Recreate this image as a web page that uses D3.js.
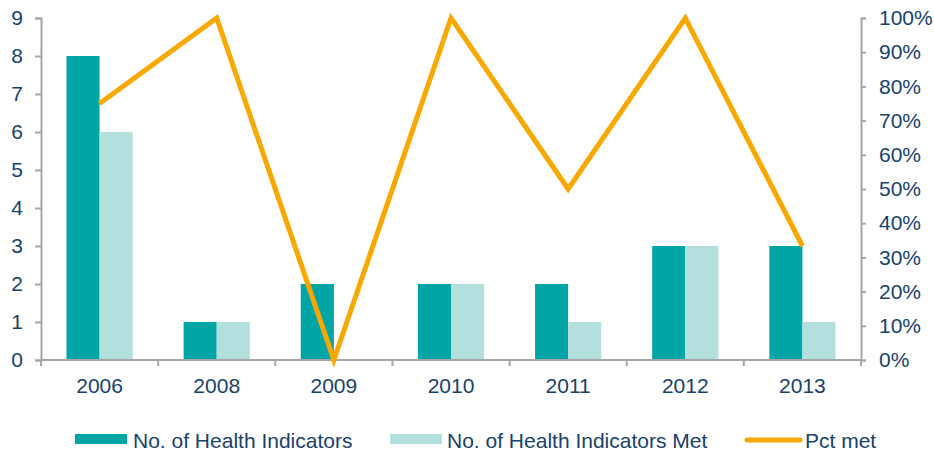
<!DOCTYPE html>
<html><head><meta charset="utf-8">
<script src="https://cdn.jsdelivr.net/npm/d3@7"></script>
<style>
body{margin:0;background:#fff;}
text{font-family:"Liberation Sans",Arial,sans-serif;fill:#17426b;}
</style></head>
<body>
<svg id="c" width="934" height="452"></svg>
<script>
const years = ["2006","2008","2009","2010","2011","2012","2013"];
const indicators = [8,1,2,2,2,3,3];
const indicatorsMet = [6,1,0,2,1,3,1];
const pctMet = [0.75,1,0,1,0.5,1,0.3333];
const leftTicks = [0,1,2,3,4,5,6,7,8,9];
const rightTicks = [0,0.1,0.2,0.3,0.4,0.5,0.6,0.7,0.8,0.9,1];
const seriesNames = ["No. of Health Indicators","No. of Health Indicators Met","Pct met"];
const colors = {ind:"#00a5a6", met:"#b3dfdd", pct:"#f9a800", axis:"#a6a6a6"};

const svg = d3.select("#c");
const L=41, R=861, T=18, B=360;
const FS = "21px";
const x = d3.scaleBand().domain(years).range([L,R]).paddingInner(0).paddingOuter(0);
const yL = d3.scaleLinear().domain([0,9]).range([B,T]);
const yR = d3.scaleLinear().domain([0,1]).range([B,T]);
const sub = d3.scaleBand().domain(["ind","met"]).range([0,x.bandwidth()]).paddingInner(0).paddingOuter(0.77);

// bars
const g = svg.append("g");
years.forEach((yr,i)=>{
  g.append("rect").attr("x",x(yr)+sub("ind")).attr("width",sub.bandwidth())
    .attr("y",yL(indicators[i])).attr("height",B-yL(indicators[i])).attr("fill",colors.ind);
  g.append("rect").attr("x",x(yr)+sub("met")).attr("width",sub.bandwidth())
    .attr("y",yL(indicatorsMet[i])).attr("height",B-yL(indicatorsMet[i])).attr("fill",colors.met);
});

// axes
function styleAxis(sel){
  sel.selectAll("path").attr("stroke",colors.axis).attr("stroke-width",2);
  sel.selectAll("line").attr("stroke",colors.axis).attr("stroke-width",2);
  sel.selectAll("text").style("font-size",FS).attr("fill","#17426b");
}
const axL = svg.append("g").attr("transform",`translate(${L},0)`)
  .call(d3.axisLeft(yL).tickValues(leftTicks).tickSize(6).tickSizeOuter(6).tickPadding(12).tickFormat(d3.format("d")));
styleAxis(axL);
const axR = svg.append("g").attr("transform",`translate(${R},0)`)
  .call(d3.axisRight(yR).tickValues(rightTicks).tickSize(5).tickSizeOuter(5).tickPadding(13).tickFormat(d3.format(".0%")));
styleAxis(axR);

const axB = svg.append("g").attr("transform",`translate(0,${B})`);
axB.append("line").attr("x1",L).attr("x2",R).attr("y1",0).attr("y2",0).attr("stroke",colors.axis).attr("stroke-width",2);
const bounds = years.map(y=>x(y)).concat([R]);
axB.selectAll("line.t").data(bounds).join("line").attr("class","t")
  .attr("x1",d=>d).attr("x2",d=>d).attr("y1",0).attr("y2",6).attr("stroke",colors.axis).attr("stroke-width",2);
axB.selectAll("text").data(years).join("text")
  .attr("x",d=>x(d)+x.bandwidth()/2).attr("y",33).attr("text-anchor","middle")
  .style("font-size",FS).text(d=>d);

// line
const line = d3.line().x((d,i)=>x(years[i])+x.bandwidth()/2).y(d=>yR(d));
svg.append("path").datum(pctMet).attr("d",line).attr("fill","none")
  .attr("stroke",colors.pct).attr("stroke-width",5).attr("stroke-linejoin","miter");

// legend
const lg = svg.append("g");
lg.append("rect").attr("x",75).attr("y",434).attr("width",52).attr("height",10).attr("fill",colors.ind);
lg.append("text").attr("x",133).attr("y",448).style("font-size",FS).text(seriesNames[0]);
lg.append("rect").attr("x",390).attr("y",434).attr("width",52).attr("height",10).attr("fill",colors.met);
lg.append("text").attr("x",447).attr("y",448).style("font-size",FS).text(seriesNames[1]);
lg.append("line").attr("x1",747).attr("x2",800).attr("y1",440).attr("y2",440)
  .attr("stroke",colors.pct).attr("stroke-width",5).attr("stroke-linecap","round");
lg.append("text").attr("x",805).attr("y",448).style("font-size",FS).text(seriesNames[2]);
</script>
</body></html>
